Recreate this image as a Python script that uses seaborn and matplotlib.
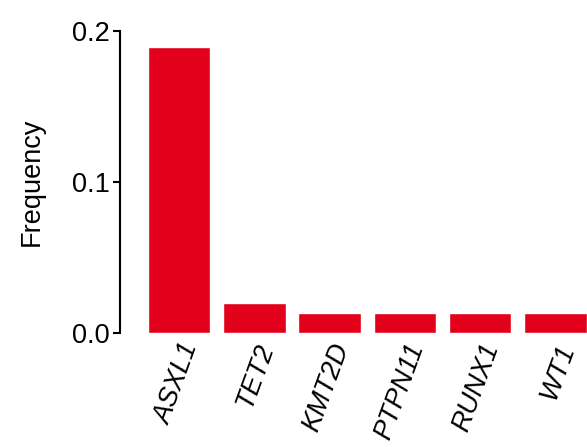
import matplotlib
matplotlib.use("Agg")
import matplotlib.pyplot as plt
import seaborn as sns
import pandas as pd

# Dados
genes = ["ASXL1", "TET2", "KMT2D", "PTPN11", "RUNX1", "WT1"]
frequency = [0.1895, 0.0196, 0.0131, 0.0131, 0.0131, 0.0131]
yticks = [0.0, 0.1, 0.2]
ytick_labels = ["0.0", "0.1", "0.2"]

sns.set_style("white")
plt.rcParams["font.family"] = ["Liberation Sans", "DejaVu Sans"]
plt.rcParams["text.color"] = "black"
plt.rcParams["axes.labelcolor"] = "black"
plt.rcParams["xtick.color"] = "black"
plt.rcParams["ytick.color"] = "black"

df = pd.DataFrame({"gene": genes, "freq": frequency})

fig = plt.figure(figsize=(5.87, 4.47), dpi=100)
ax = fig.add_axes([0.204, 0.255, 0.796, 0.676])

sns.barplot(data=df, x="gene", y="freq", color="#e3001b", saturation=1,
            width=0.83, ax=ax)

ax.set_xlim(-0.79, 5.42)
ax.set_ylim(0, 0.2)
ax.set_yticks(yticks)
ax.set_yticklabels(ytick_labels, fontsize=19.5)
ax.set_xlabel("")
ax.set_ylabel("Frequency", fontsize=19.5, labelpad=20)

for lbl in ax.get_xticklabels():
    lbl.set_fontstyle("italic")
    lbl.set_fontsize(19.5)
    lbl.set_rotation(70)
    lbl.set_ha("right")
    lbl.set_rotation_mode("anchor")

sns.despine(ax=ax, top=True, right=True, bottom=True)
ax.spines["left"].set_linewidth(1.5)
ax.spines["left"].set_color("black")
ax.tick_params(axis="y", direction="out", length=5, width=1.5,
               left=True, pad=2)
ax.tick_params(axis="x", length=0, pad=5)

fig.savefig("out.png", dpi=100)
